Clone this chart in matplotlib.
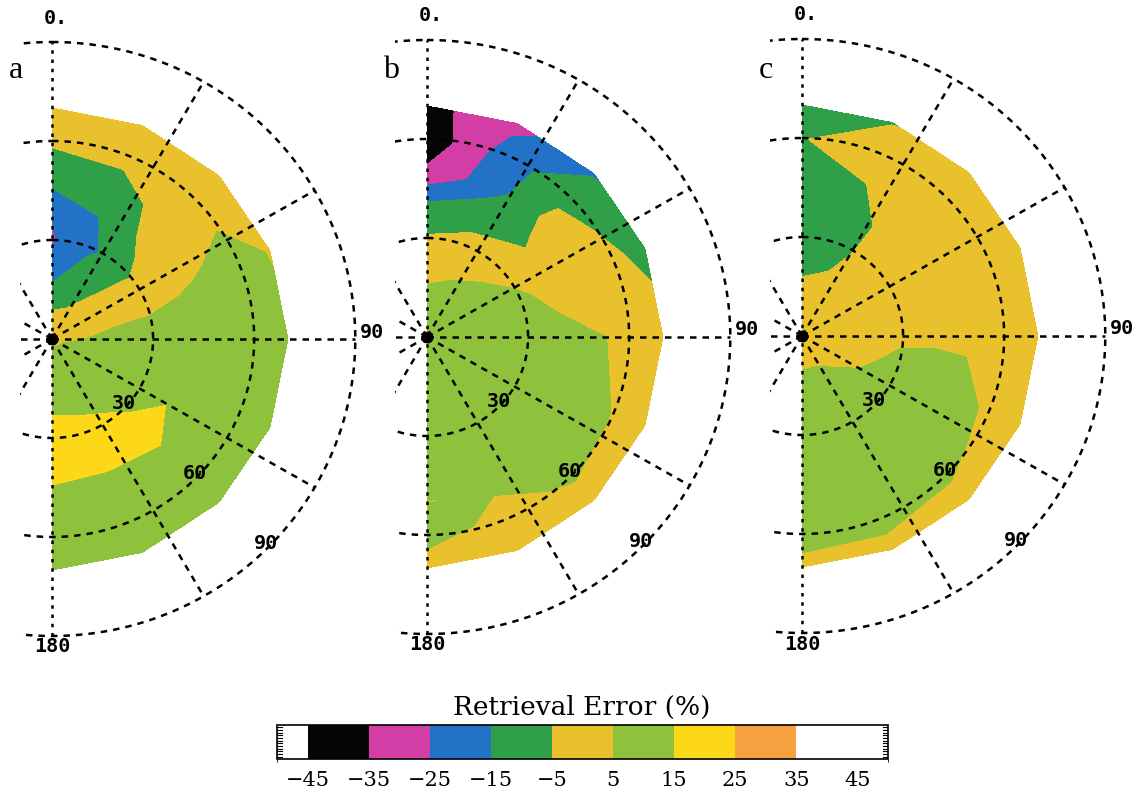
import numpy as np
import matplotlib
matplotlib.use("Agg")
import matplotlib.pyplot as plt
from matplotlib.colors import ListedColormap, BoundaryNorm
from matplotlib.cm import ScalarMappable

# Sky grid: zenith angle (deg) rows, azimuth (deg) columns
zenith = [0, 10, 20, 30, 40, 50, 60, 70]
azimuth = [0, 22.5, 45, 67.5, 90, 112.5, 135, 157.5, 180]

# Retrieval error (%) on the sky grid, one array per case
error_a = [
    [4, 4, 4, 4, 4, 4, 4, 4, 4],
    [-6.2, -5, 0, 3, 5, 7, 7.5, 8, 8],
    [-18.3, -10, -5, 3, 7, 10, 11, 12, 13],
    [-26.2, -17, -8, 3, 8, 11, 14.5, 18, 19],
    [-23.5, -14, -2, 4, 10, 13.5, 17.5, 17, 18],
    [-8.6, -10, 0, 6, 11, 11, 13, 11, 11],
    [-4.1, -1, 2, 8, 10, 10, 10, 10, 10],
    [-2, 0, 2, 4.5, 7, 8, 8, 9, 9],
]
error_b = [
    [8, 8, 8, 8, 8, 8, 8, 8, 8],
    [8, 8, 7, 8, 9, 9, 9, 9, 9],
    [3, 4.5, 6, 7, 8, 9, 10, 10, 10],
    [-4, -2, 3, 6, 8, 9, 10, 10, 10],
    [-13, -9, -6, 3, 7, 9, 10, 10, 10],
    [-33, -20, -3, 0, 5.5, 7, 9, 5.5, 4.8],
    [-42, -21, -7, -3, 4, 4.8, 6, 3, 8],
    [-38, -28, -16, -8, 0, 1, 1, 1, 1],
]
error_c = [
    [2, 2, 2, 2, 2, 2, 2, 2, 2],
    [-1, 1, 2, 3, 3, 4, 4.5, 5, 4.9],
    [-6, -4.5, 1, 2, 3, 4.5, 6, 7, 7],
    [-10, -8, 0, 2, 4, 7, 9, 9, 9],
    [-12, -9, 0, 2, 4, 8, 10, 10, 10],
    [-10, -5, 1, 2, 4, 7, 9, 9, 9],
    [-5.5, 1, 2, 2, 3, 4, 6, 7, 7],
    [-8, -5.5, 1, 2, 2, 2, 2, 3, 3.5],
]

levels = [-50, -45, -35, -25, -15, -5, 5, 15, 25, 35, 50]
tick_values = [-45, -35, -25, -15, -5, 5, 15, 25, 35, 45]
fill_colors = ["#ffffff", "#050505", "#d23ea6", "#2272c8", "#2f9f48",
               "#e8c12c", "#8ec23c", "#fdd819", "#f6a040", "#ffffff"]
panel_letters = ["a", "b", "c"]
ring_values = [30, 60, 90]
spoke_angles = [30, 60, 90, 120, 150, 210, 240, 270, 300, 330]

W, H = 1143, 793
fig = plt.figure(figsize=(W / 100, H / 100), dpi=100)

SX, SY = 3.37, 3.30          # pixels per degree of zenith angle
X_MIN, X_MAX, Y_HALF = -9.5, 100, 100
centers = [(52, 339), (427, 337), (802, 336)]


def px_rect(left, top, width, height):
    return [left / W, 1 - (top + height) / H, width / W, height / H]


grid_style = dict(color="black", lw=1.8, linestyle=(0, (2.6, 2.4)), zorder=3)
axis_style = dict(color="black", lw=1.8, linestyle=(0, (1.4, 2.3)), zorder=3)
mono = dict(family="DejaVu Sans Mono", fontweight="bold", fontsize=14.5, zorder=6)

Z, A = np.meshgrid(zenith, np.radians(azimuth), indexing="ij")
X = Z * np.sin(A)
Y = Z * np.cos(A)

for err, (cx, cy), letter in zip([error_a, error_b, error_c], centers, panel_letters):
    ax = fig.add_axes(px_rect(cx + X_MIN * SX, cy - Y_HALF * SY,
                              (X_MAX - X_MIN) * SX, 2 * Y_HALF * SY))
    ax.set_xlim(X_MIN, X_MAX)
    ax.set_ylim(-Y_HALF, Y_HALF)
    ax.axis("off")

    ax.contourf(X, Y, np.array(err, dtype=float), levels=levels,
                colors=fill_colors, zorder=1)

    t = np.linspace(0, 2 * np.pi, 721)
    for r in ring_values:
        ax.plot(r * np.sin(t), r * np.cos(t), **grid_style)
    for a in spoke_angles:
        ar = np.radians(a)
        ax.plot([0, 90 * np.sin(ar)], [0, 90 * np.cos(ar)], **grid_style)
    ax.plot([0, 0], [-90, 90], **axis_style)
    ax.plot(0, 0, "o", color="black", ms=7.5, zorder=5)

    d = np.radians(135)
    for r in ring_values:
        ax.annotate(str(r), xy=(r * np.sin(d), r * np.cos(d)), xytext=(0, 6),
                    textcoords="offset pixels", ha="center", va="center",
                    annotation_clip=False, **mono)
    ax.annotate("0.", xy=(0, 90), xytext=(4, 24), textcoords="offset pixels",
                ha="center", va="center", annotation_clip=False, **mono)
    ax.annotate("180", xy=(0, -90), xytext=(0, -11), textcoords="offset pixels",
                ha="center", va="center", annotation_clip=False, **mono)
    ax.annotate("90", xy=(90, 0), xytext=(5, 7), textcoords="offset pixels",
                ha="left", va="center", annotation_clip=False, **mono)

    fig.text((cx - 36) / W, 1 - 70 / H, letter, ha="center", va="center",
             fontsize=23, family="Liberation Serif")

# Colour scale
cmap = ListedColormap(fill_colors)
norm = BoundaryNorm(levels, cmap.N)
cax = fig.add_axes(px_rect(277, 725, 611, 34))
cb = fig.colorbar(ScalarMappable(norm=norm, cmap=cmap), cax=cax,
                  orientation="horizontal", boundaries=levels,
                  spacing="proportional", ticks=tick_values)
cb.outline.set_linewidth(1.2)
cax.tick_params(axis="x", length=0, pad=9, labelsize=15)
for lab in cax.get_xticklabels():
    lab.set_family("DejaVu Serif")
for y in np.linspace(0.07, 0.93, 12):
    cax.plot([0, 0.009], [y, y], transform=cax.transAxes, color="black", lw=0.8)
    cax.plot([0.991, 1], [y, y], transform=cax.transAxes, color="black", lw=0.8)
fig.text(582 / W, 1 - 707 / H, "Retrieval Error (%)", ha="center", va="center",
         fontsize=19, family="DejaVu Serif")

fig.savefig("out.png", dpi=100)
